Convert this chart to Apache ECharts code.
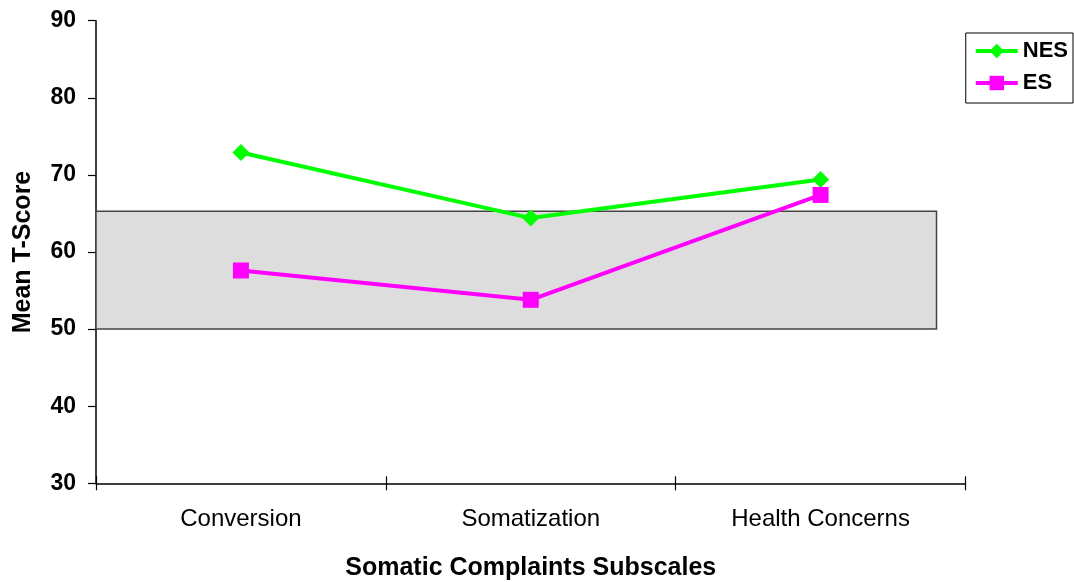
<!DOCTYPE html>
<html>
<head>
<meta charset="utf-8">
<script src="https://cdn.jsdelivr.net/npm/echarts@6/dist/echarts.min.js"></script>
<style>
html,body{margin:0;padding:0;background:#fff;}
#chart{width:1074px;height:582px;}
</style>
</head>
<body>
<div id="chart"></div>
<script>
const categories = ['Conversion', 'Somatization', 'Health Concerns'];
const nesValues = [72.9, 64.4, 69.4];
const esValues = [57.6, 53.8, 67.4];
const yTicks = [30, 40, 50, 60, 70, 80, 90];
const bandRange = [50, 65.3];
const bandXEnd = 2.9;

const chart = echarts.init(document.getElementById('chart'));
const FONT = '"Liberation Sans", Arial, sans-serif';
chart.setOption({
  animation: false,
  grid: { left: 96, right: 108.5, top: 20.7, bottom: 98.7, containLabel: false, outerBoundsMode: 'none' },
  legend: {
    right: 1, top: 33,
    orient: 'vertical',
    itemWidth: 42, itemHeight: 18, itemGap: 10,
    padding: [7, 5, 9, 8],
    borderColor: '#000', borderWidth: 1,
    lineStyle: { width: 4 },
    textStyle: { fontFamily: FONT, fontWeight: 'bold', fontSize: 22, color: '#000', padding: [0, 0, 0, 0] },
    data: ['NES', 'ES']
  },
  xAxis: [{
    type: 'category',
    data: categories,
    boundaryGap: true,
    axisLine: { lineStyle: { color: '#000', width: 1.5 } },
    axisTick: { show: true, length: 7, lineStyle: { color: '#000', width: 1.2 } },
    axisLabel: { fontFamily: FONT, fontSize: 24, color: '#000', margin: 24 },
    name: 'Somatic Complaints Subscales',
    nameLocation: 'middle',
    nameGap: 72,
    nameTextStyle: { fontFamily: FONT, fontWeight: 'bold', fontSize: 25, color: '#000' }
  }, {
    type: 'category',
    data: categories,
    position: 'bottom',
    boundaryGap: true,
    axisLine: { show: false },
    axisTick: { show: true, inside: true, length: 7, lineStyle: { color: '#000', width: 1.2 } },
    axisLabel: { show: false }
  }, {
    type: 'value',
    min: 0, max: 3,
    show: false
  }],
  yAxis: {
    type: 'value',
    min: yTicks[0], max: yTicks[yTicks.length - 1], interval: 10,
    splitLine: { show: false },
    axisLine: { show: true, lineStyle: { color: '#000', width: 1.5 } },
    axisTick: { show: true, length: 8, lineStyle: { color: '#000', width: 1.2 } },
    axisLabel: { fontFamily: FONT, fontWeight: 'bold', fontSize: 23, color: '#000', margin: 20 },
    name: 'Mean T-Score',
    nameLocation: 'middle',
    nameGap: 60,
    nameTextStyle: { fontFamily: FONT, fontWeight: 'bold', fontSize: 25, color: '#000' }
  },
  series: [{
    name: 'band',
    type: 'line',
    xAxisIndex: 2,
    data: [],
    silent: true,
    z: 1,
    markArea: {
      silent: true,
      itemStyle: { color: '#DDDDDD', borderColor: '#444', borderWidth: 1.5 },
      data: [[{ xAxis: 0, yAxis: bandRange[0] }, { xAxis: bandXEnd, yAxis: bandRange[1] }]]
    }
  }, {
    name: 'NES',
    type: 'line',
    data: nesValues,
    symbol: 'diamond',
    symbolSize: 17,
    z: 3,
    lineStyle: { color: '#00FF00', width: 4 },
    itemStyle: { color: '#00FF00' }
  }, {
    name: 'ES',
    type: 'line',
    data: esValues,
    symbol: 'rect',
    symbolSize: 16,
    z: 3,
    lineStyle: { color: '#FF00FF', width: 4 },
    itemStyle: { color: '#FF00FF' }
  }]
});
</script>
</body>
</html>
